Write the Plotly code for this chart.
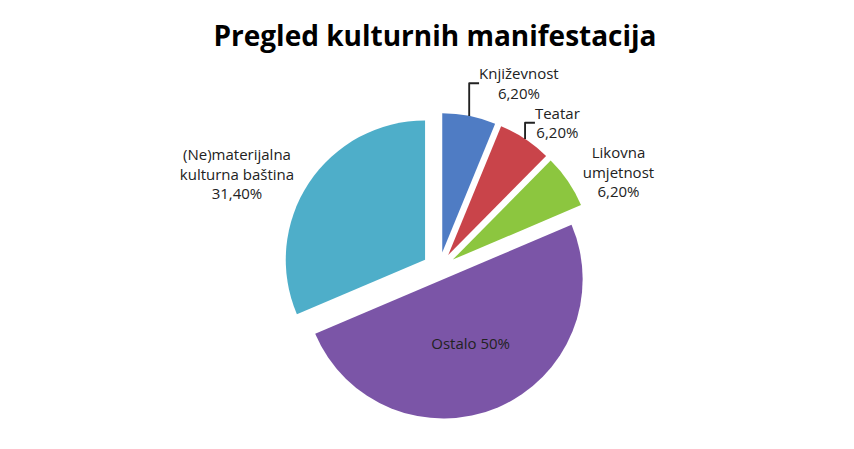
import plotly.graph_objects as go

categories = ["Književnost", "Teatar", "Likovna umjetnost", "Ostalo", "(Ne)materijalna kulturna baština"]
values = [6.2, 6.2, 6.2, 50, 31.4]
labels_text = ["Književnost<br>6,20%", "Teatar<br>6,20%", "Likovna<br>umjetnost<br>6,20%", "Ostalo 50%", "(Ne)materijalna<br>kulturna baština<br>31,40%"]
colors = ["#4f7cc4", "#c9444a", "#8cc63f", "#7b55a7", "#4eaec9"]

fig = go.Figure(go.Pie(
    labels=categories, values=values, text=labels_text,
    textinfo="text", sort=False, direction="clockwise", rotation=0,
    pull=[0.12, 0.12, 0.12, 0.08, 0.12],
    marker=dict(colors=colors, line=dict(color="white", width=0)),
    textposition=["outside", "outside", "outside", "inside", "outside"],
    textfont=dict(family="Open Sans", size=15, color="#222"),
    insidetextorientation="horizontal",
    hoverinfo="label+percent",
))
fig.update_layout(
    width=854, height=449, paper_bgcolor="white", showlegend=False,
    title=dict(text="<b>Pregled kulturnih manifestacija</b>", x=0.5, y=0.96,
               font=dict(family="Open Sans", size=28, color="black")),
    margin=dict(l=200, r=200, t=105, b=15),
)
fig.write_html("out.html")
